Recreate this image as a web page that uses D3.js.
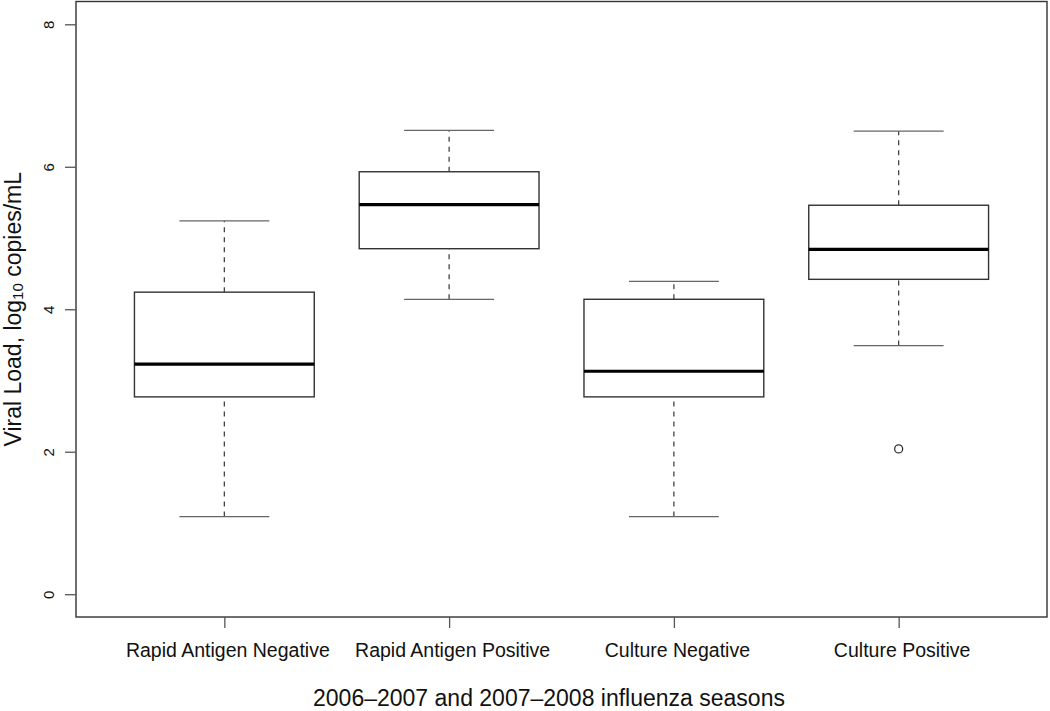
<!DOCTYPE html>
<html>
<head>
<meta charset="utf-8">
<script src="https://cdn.jsdelivr.net/npm/d3@7"></script>
<style>
  body { margin: 0; background: #fff; }
  text { font-family: "Liberation Sans", Arial, sans-serif; fill: #111; }
</style>
</head>
<body>
<div id="chart"></div>
<script>
// values (log10 copies/mL)
var categories = ["Rapid Antigen Negative", "Rapid Antigen Positive", "Culture Negative", "Culture Positive"];
var whiskerLow = [1.09, 4.14, 1.09, 3.49];
var q1 = [2.77, 4.85, 2.77, 4.42];
var median = [3.23, 5.47, 3.13, 4.84];
var q3 = [4.24, 5.93, 4.14, 5.46];
var whiskerHigh = [5.24, 6.51, 4.39, 6.50];
var outliers = [[], [], [], [2.04]];
var yTicks = [0, 2, 4, 6, 8];

var width = 1050, height = 711;
var plotLeft = 76, plotRight = 1047, plotTop = 1.5, plotBottom = 617;

var svg = d3.select("#chart").append("svg")
	.attr("width", width)
	.attr("height", height);

var x = d3.scalePoint()
	.domain(categories)
	.range([plotLeft, plotRight])
	.padding(0.66);

var y = d3.scaleLinear()
	.domain([-0.32, 8.32])
	.range([plotBottom, plotTop]);

var boxW = x.step() * 0.8;
var capW = boxW * 0.5;

var data = categories.map(function (c, i) {
	return { name: c, lo: whiskerLow[i], q1: q1[i], med: median[i], q3: q3[i], hi: whiskerHigh[i], out: outliers[i] };
});

var g = svg.selectAll("g.box")
	.data(data)
	.enter().append("g")
	.attr("class", "box")
	.attr("transform", function (d) { return "translate(" + x(d.name) + ",0)"; });

// whiskers, dashed
g.append("line")
	.attr("y1", function (d) { return y(d.lo); })
	.attr("y2", function (d) { return y(d.q1); })
	.attr("stroke", "#444").attr("stroke-width", 1.3).attr("stroke-dasharray", "5,5");
g.append("line")
	.attr("y1", function (d) { return y(d.q3); })
	.attr("y2", function (d) { return y(d.hi); })
	.attr("stroke", "#444").attr("stroke-width", 1.3).attr("stroke-dasharray", "5,5");

// staples
g.append("line")
	.attr("x1", -capW / 2).attr("x2", capW / 2)
	.attr("y1", function (d) { return y(d.lo); })
	.attr("y2", function (d) { return y(d.lo); })
	.attr("stroke", "#666").attr("stroke-width", 1.3);
g.append("line")
	.attr("x1", -capW / 2).attr("x2", capW / 2)
	.attr("y1", function (d) { return y(d.hi); })
	.attr("y2", function (d) { return y(d.hi); })
	.attr("stroke", "#666").attr("stroke-width", 1.3);

// box
g.append("rect")
	.attr("x", -boxW / 2)
	.attr("width", boxW)
	.attr("y", function (d) { return y(d.q3); })
	.attr("height", function (d) { return y(d.q1) - y(d.q3); })
	.attr("fill", "#fff")
	.attr("stroke", "#333").attr("stroke-width", 1.4);

// median
g.append("line")
	.attr("x1", -boxW / 2).attr("x2", boxW / 2)
	.attr("y1", function (d) { return y(d.med); })
	.attr("y2", function (d) { return y(d.med); })
	.attr("stroke", "#000").attr("stroke-width", 3.2);

// outliers
g.selectAll("circle")
	.data(function (d) { return d.out; })
	.enter().append("circle")
	.attr("cx", 0)
	.attr("cy", function (v) { return y(v); })
	.attr("r", 4)
	.attr("fill", "none")
	.attr("stroke", "#333").attr("stroke-width", 1.3);

// frame
svg.append("rect")
	.attr("x", plotLeft).attr("y", plotTop)
	.attr("width", plotRight - plotLeft).attr("height", plotBottom - plotTop)
	.attr("fill", "none")
	.attr("stroke", "#333").attr("stroke-width", 1.4);

// y axis
var yAxis = svg.append("g")
	.attr("transform", "translate(" + plotLeft + ",0)")
	.call(d3.axisLeft(y).tickValues(yTicks).tickSize(11).tickFormat(d3.format("d")));
yAxis.select(".domain").remove();
yAxis.selectAll("line").attr("stroke", "#555").attr("stroke-width", 1.3);
yAxis.selectAll(".tick text")
	.attr("x", 0).attr("y", 0).attr("dy", null)
	.attr("text-anchor", "middle")
	.attr("dominant-baseline", "central")
	.attr("transform", "translate(-28,0) rotate(-90)")
	.style("font-size", "15px");

// x axis
var xAxis = svg.append("g")
	.attr("transform", "translate(0," + plotBottom + ")")
	.call(d3.axisBottom(x).tickSize(11).tickPadding(15));
xAxis.select(".domain").remove();
xAxis.selectAll("line").attr("stroke", "#555").attr("stroke-width", 1.3);
xAxis.selectAll("text").attr("dx", 3).style("font-size", "19.5px");

// axis titles
var yt = svg.append("text")
	.attr("transform", "translate(13," + ((plotTop + plotBottom) / 2) + ") rotate(-90)")
	.attr("text-anchor", "middle")
	.attr("dominant-baseline", "central")
	.style("font-size", "23px");
yt.append("tspan").text("Viral Load, log");
yt.append("tspan").attr("baseline-shift", "-30%").style("font-size", "15px").text("10");
yt.append("tspan").text(" copies/mL");

svg.append("text")
	.attr("x", 549)
	.attr("y", 706)
	.attr("text-anchor", "middle")
	.style("font-size", "23px")
	.text("2006\u20132007 and 2007\u20132008 influenza seasons");
</script>
</body>
</html>
